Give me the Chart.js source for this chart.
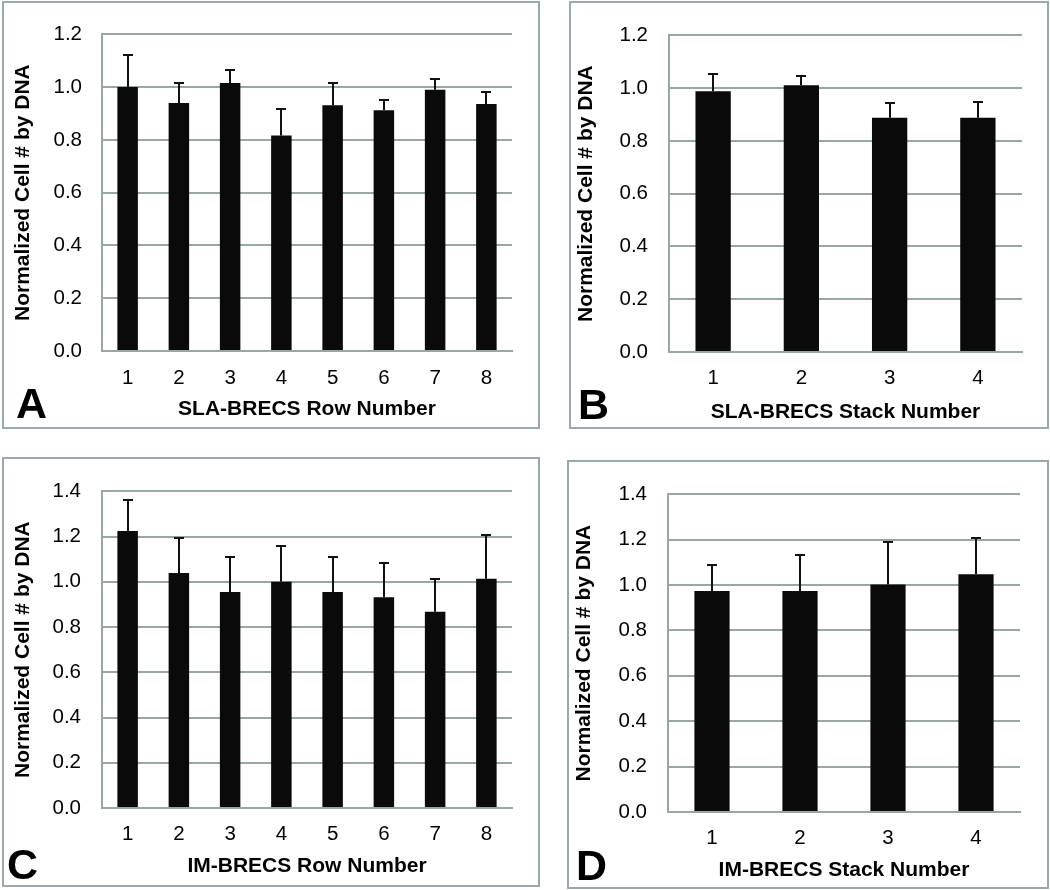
<!DOCTYPE html>
<html>
<head>
<meta charset="utf-8">
<script src="https://cdn.jsdelivr.net/npm/chart.js@4.4.1/dist/chart.umd.min.js"></script>
<style>
  body { margin: 0; background: #fff; width: 1050px; height: 890px; position: relative; overflow: hidden; font-family: "Liberation Sans", Arial, sans-serif; }
  canvas { position: absolute; }
  .marco { position: absolute; box-sizing: border-box; border: 2px solid #9aaaaa; pointer-events: none; }
  .letra { position: absolute; font-weight: bold; font-size: 43px; line-height: 43px; color: #000; }
</style>
</head>
<body>
<canvas id="graficoA"></canvas>
<canvas id="graficoB"></canvas>
<canvas id="graficoC"></canvas>
<canvas id="graficoD"></canvas>
<div class="marco" style="left:2px;top:1px;width:538px;height:428px"></div>
<div class="marco" style="left:569px;top:1px;width:480px;height:428px"></div>
<div class="marco" style="left:2px;top:457px;width:538px;height:430px"></div>
<div class="marco" style="left:567px;top:460px;width:482px;height:429px"></div>
<div class="letra" style="left:16px;top:382px">A</div>
<div class="letra" style="left:578px;top:383px">B</div>
<div class="letra" style="left:7px;top:843px">C</div>
<div class="letra" style="left:576px;top:844px">D</div>
<script>
// --- DATOS ---
const filas = ["1", "2", "3", "4", "5", "6", "7", "8"];
const pilas = ["1", "2", "3", "4"];

const slaFilas = [1.00, 0.94, 1.015, 0.817, 0.931, 0.912, 0.99, 0.936];
const slaFilasError = [0.123, 0.074, 0.048, 0.10, 0.084, 0.039, 0.039, 0.045];

const slaPilas = [0.988, 1.011, 0.888, 0.888];
const slaPilasError = [0.067, 0.034, 0.054, 0.06];

const imFilas = [1.225, 1.039, 0.955, 1.0, 0.955, 0.932, 0.868, 1.013];
const imFilasError = [0.135, 0.156, 0.154, 0.158, 0.154, 0.153, 0.145, 0.192];

const imPilas = [0.974, 0.974, 1.002, 1.048];
const imPilasError = [0.113, 0.159, 0.188, 0.158];

const TITULO_Y = "Normalized Cell # by DNA";
const GRIS = "#98a6a6";
const FUENTE = "'Liberation Sans', Arial, sans-serif";

// --- BARRAS DE ERROR ---
const pluginErrores = {
  id: "errores",
  afterDatasetsDraw(chart) {
    const ctx = chart.ctx;
    const ds = chart.data.datasets[0];
    const escalaY = chart.scales.y;
    ctx.save();
    ctx.strokeStyle = "#111";
    ctx.lineWidth = 2;
    chart.getDatasetMeta(0).data.forEach((barra, i) => {
      const x = Math.round(barra.x);
      const yTope = Math.round(escalaY.getPixelForValue(ds.data[i] + ds.errores[i]));
      ctx.beginPath();
      ctx.moveTo(x, barra.y);
      ctx.lineTo(x, yTope);
      ctx.moveTo(x - 5, yTope);
      ctx.lineTo(x + 5, yTope);
      ctx.stroke();
    });
    ctx.restore();
  }
};

// --- CREAR GRÁFICO ---
function crearGrafico(id, etiquetas, valores, errores, yMax, tituloX, d) {
  const canvas = document.getElementById(id);
  canvas.width = d.marco[2];
  canvas.height = d.marco[3];
  canvas.style.left = d.marco[0] + "px";
  canvas.style.top = d.marco[1] + "px";

  return new Chart(canvas.getContext("2d"), {
    type: "bar",
    data: {
      labels: etiquetas,
      datasets: [{
        data: valores,
        errores: errores,
        backgroundColor: "#0a0a0a",
        borderWidth: 0,
        barPercentage: 0.4,
        categoryPercentage: 1,
      }],
    },
    options: {
      responsive: false,
      animation: false,
      layout: { padding: { top: d.arriba, right: d.derecha, left: 0, bottom: 0 } },
      plugins: { legend: { display: false }, tooltip: { enabled: false } },
      scales: {
        x: {
          grid: { display: false },
          border: { color: GRIS, width: 2 },
          ticks: { color: "#000", padding: d.centroTicksX - 19, font: { family: FUENTE, size: 20.5, lineHeight: 1.2 } },
          title: { display: true, text: tituloX, color: "#000", padding: { top: 0, bottom: d.tituloXAbajo - 10.5 }, font: { family: FUENTE, size: 21, weight: "bold", lineHeight: 1 } },
          afterFit: (s) => { s.height = d.altoX; },
        },
        y: {
          min: 0,
          max: yMax,
          grid: { color: GRIS, lineWidth: 2, drawTicks: false },
          border: { color: GRIS, width: 2 },
          ticks: { stepSize: 0.2, color: "#000", padding: d.padTicksY, callback: (v) => v.toFixed(1), font: { family: FUENTE, size: 20.5 } },
          title: { display: true, text: TITULO_Y, color: "#000", padding: { top: d.tituloYCentro - 10.5, bottom: 0 }, font: { family: FUENTE, size: 21, weight: "bold", lineHeight: 1 } },
          afterFit: (s) => { s.width = d.anchoY; },
        },
      },
    },
    plugins: [pluginErrores],
  });
}

// --- INICIO ---
crearGrafico("graficoA", filas, slaFilas, slaFilasError, 1.2, "SLA-BRECS Row Number",
  { marco: [3, 2, 536, 426], anchoY: 99, derecha: 27, arriba: 20, altoX: 77, padTicksY: 20, tituloYCentro: 20, centroTicksX: 26, tituloXAbajo: 19 });
crearGrafico("graficoB", pilas, slaPilas, slaPilasError, 1.2, "SLA-BRECS Stack Number",
  { marco: [570, 2, 478, 426], anchoY: 99, derecha: 26, arriba: 20, altoX: 76, padTicksY: 21, tituloYCentro: 16, centroTicksX: 25, tituloXAbajo: 16 });
crearGrafico("graficoC", filas, imFilas, imFilasError, 1.4, "IM-BRECS Row Number",
  { marco: [3, 458, 536, 428], anchoY: 99, derecha: 27, arriba: 20, altoX: 78, padTicksY: 21, tituloYCentro: 20, centroTicksX: 25, tituloXAbajo: 20 });
crearGrafico("graficoD", pilas, imPilas, imPilasError, 1.4, "IM-BRECS Stack Number",
  { marco: [568, 461, 480, 427], anchoY: 100, derecha: 28, arriba: 21, altoX: 76, padTicksY: 21, tituloYCentro: 16, centroTicksX: 25, tituloXAbajo: 18 });
</script>
</body>
</html>
